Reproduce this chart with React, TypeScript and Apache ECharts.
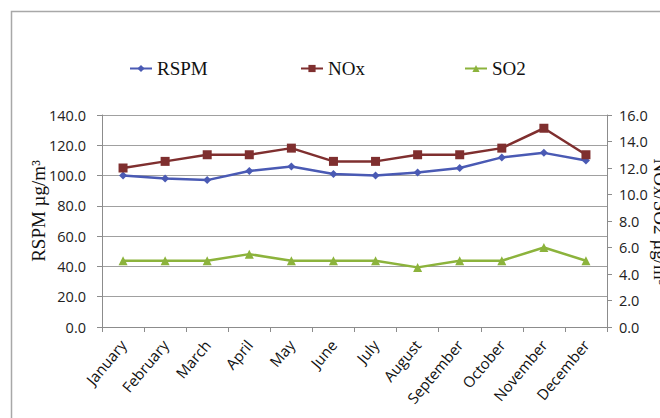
import React, { useEffect, useRef } from "react";
import * as echarts from "echarts";

// Monthly concentrations
const months = [
  "January", "February", "March", "April", "May", "June",
  "July", "August", "September", "October", "November", "December",
];
const rspm = [100, 98, 97, 103, 106, 101, 100, 102, 105, 112, 115, 110];
const nox = [12, 12.5, 13, 13, 13.5, 12.5, 12.5, 13, 13, 13.5, 15, 13];
const so2 = [5, 5, 5, 5.5, 5, 5, 5, 4.5, 5, 5, 6, 5];

const SERIF = "'Liberation Serif', 'Times New Roman', serif";
const SANS = "'Open Sans', 'Liberation Sans', sans-serif";
const AXIS_GRAY = "#8c8c8c";

export default function App() {
  const ref = useRef<HTMLDivElement>(null);

  useEffect(() => {
    if (!ref.current) return;
    const chart = echarts.init(ref.current, null, { renderer: "svg" });

    const legendText = { fontFamily: SERIF, fontSize: 19, color: "#111" };
    const legendBase = {
      top: 59,
      padding: 0,
      itemWidth: 22,
      itemHeight: 9,
      itemGap: 2,
      textStyle: legendText,
    };

    chart.setOption({
      animation: false,
      backgroundColor: "#fff",
      grid: { left: 102, right: 53, top: 115, bottom: 91, containLabel: false },
      legend: [
        { ...legendBase, left: 129, data: ["RSPM"] },
        { ...legendBase, left: 300, data: ["NOx"] },
        { ...legendBase, left: 464, data: ["SO2"] },
      ],
      xAxis: {
        type: "category",
        data: months,
        boundaryGap: true,
        axisLine: { lineStyle: { color: AXIS_GRAY, width: 1 } },
        axisTick: { show: true, length: 5, alignWithLabel: false, lineStyle: { color: AXIS_GRAY } },
        axisLabel: {
          rotate: 50,
          interval: 0,
          margin: 15,
          fontFamily: SANS,
          fontSize: 15,
          color: "#111",
        },
      },
      yAxis: [
        {
          type: "value",
          min: 0,
          max: 140,
          interval: 20,
          position: "left",
          axisLine: { show: true, lineStyle: { color: AXIS_GRAY } },
          axisTick: { show: true, length: 5, lineStyle: { color: AXIS_GRAY } },
          axisLabel: {
            margin: 16,
            fontFamily: SANS,
            fontSize: 14.5,
            color: "#222",
            formatter: (v: number) => v.toFixed(1),
          },
          splitLine: { show: true, lineStyle: { color: "#a0a0a0", width: 1 } },
        },
        {
          type: "value",
          min: 0,
          max: 16,
          interval: 2,
          position: "right",
          axisLine: { show: true, lineStyle: { color: AXIS_GRAY } },
          axisTick: { show: true, length: 5, lineStyle: { color: AXIS_GRAY } },
          axisLabel: {
            margin: 12,
            fontFamily: SANS,
            fontSize: 14.5,
            color: "#222",
            formatter: (v: number) => v.toFixed(1),
          },
          splitLine: { show: false },
        },
      ],
      series: [
        {
          name: "RSPM",
          type: "line",
          yAxisIndex: 0,
          data: rspm,
          symbol: "diamond",
          symbolSize: 8,
          color: "#4a5ab4",
          lineStyle: { width: 2.5, color: "#4a5ab4" },
          itemStyle: { color: "#4a5ab4" },
        },
        {
          name: "NOx",
          type: "line",
          yAxisIndex: 1,
          data: nox,
          symbol: "rect",
          symbolSize: 9,
          color: "#7f2f2f",
          lineStyle: { width: 2.5, color: "#7f2f2f" },
          itemStyle: { color: "#7f2f2f" },
        },
        {
          name: "SO2",
          type: "line",
          yAxisIndex: 1,
          data: so2,
          symbol: "triangle",
          symbolSize: 9,
          color: "#8cb33c",
          lineStyle: { width: 2.5, color: "#8cb33c" },
          itemStyle: { color: "#8cb33c" },
        },
      ],
      graphic: [
        {
          type: "rect",
          shape: { x: 11.5, y: 11.5, width: 700, height: 500 },
          style: { fill: "none", stroke: "#a8a8a8", lineWidth: 1.5 },
          silent: true,
          z: -1,
        },
        {
          type: "text",
          x: 38,
          y: 211,
          rotation: Math.PI / 2,
          style: {
            text: "RSPM µg/m³",
            fontFamily: SERIF,
            fontSize: 19,
            fill: "#111",
            align: "center",
            verticalAlign: "middle",
          },
        },
        {
          type: "text",
          x: 660,
          y: 222,
          rotation: -Math.PI / 2,
          style: {
            text: "NOx/SO2 µg/m³",
            fontFamily: SERIF,
            fontSize: 19,
            fill: "#111",
            align: "center",
            verticalAlign: "middle",
          },
        },
      ],
    });

    return () => chart.dispose();
  }, []);

  return (
    <div
      ref={ref}
      style={{ position: "fixed", left: 0, top: 0, width: 660, height: 418, overflow: "hidden" }}
    />
  );
}
